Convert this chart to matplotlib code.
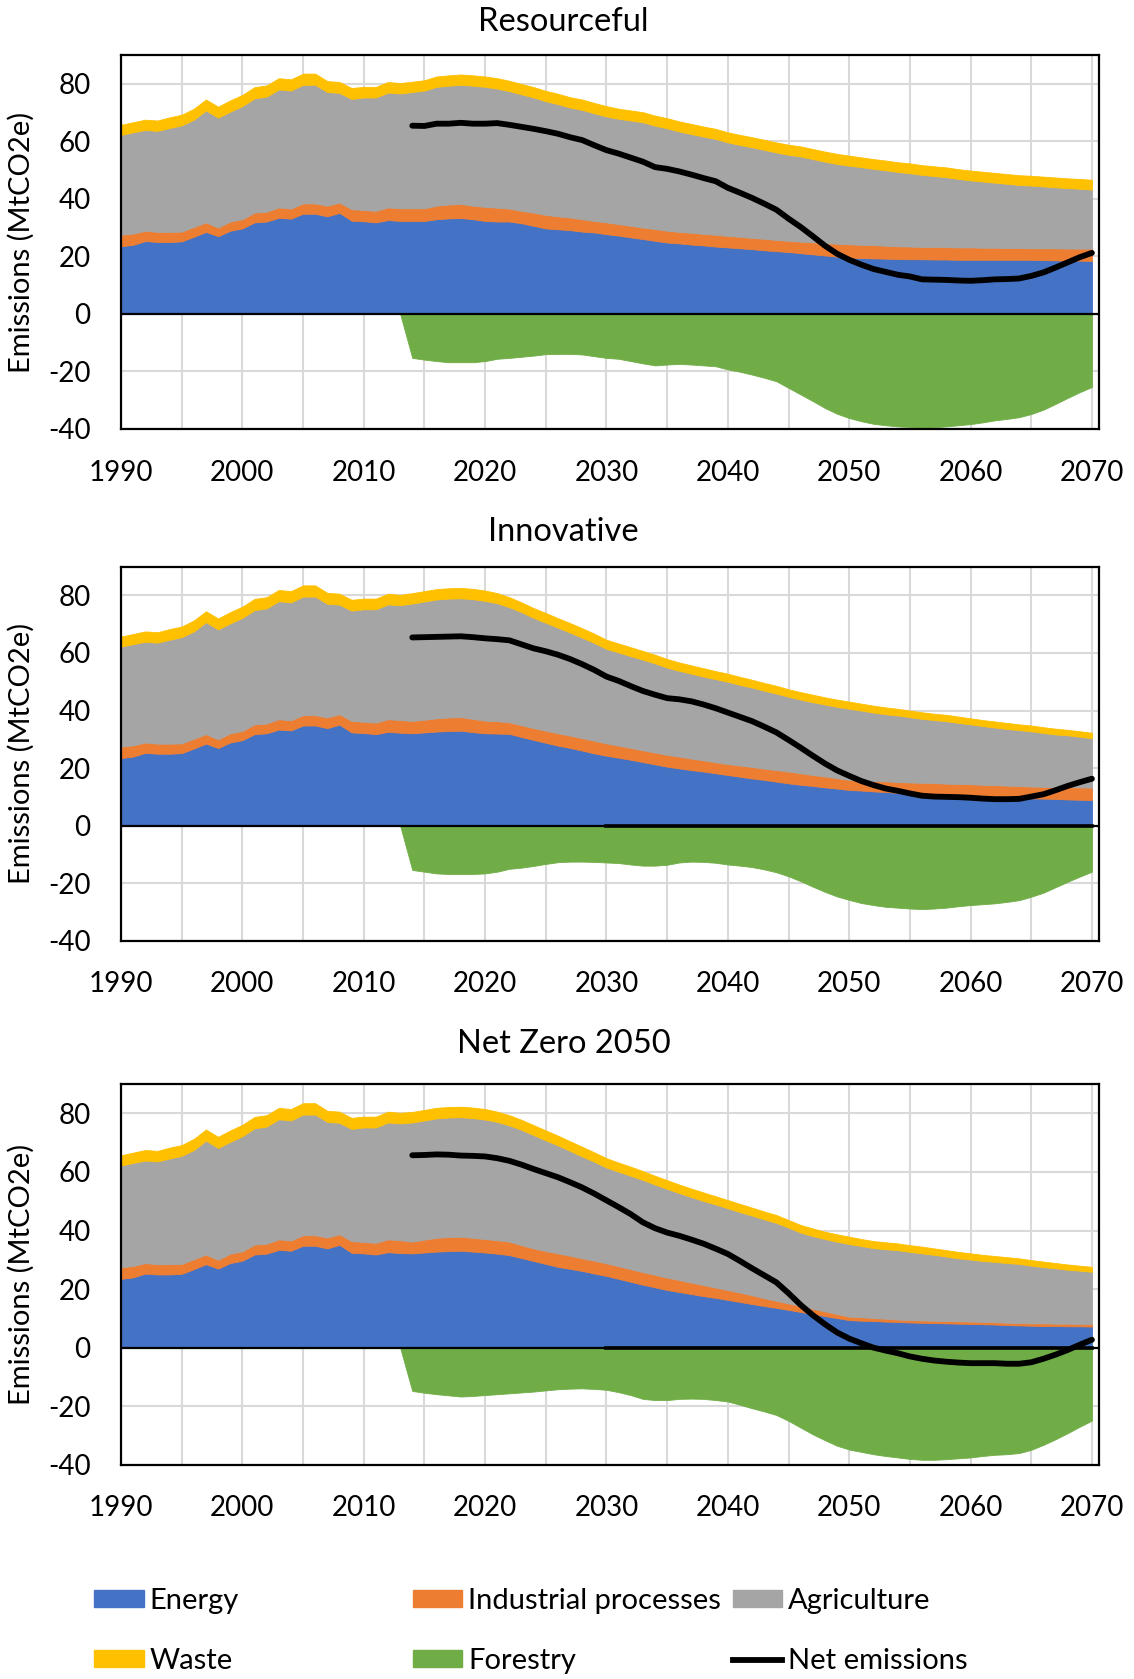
import numpy as np
import matplotlib.pyplot as plt
from matplotlib.patches import Patch
from matplotlib.lines import Line2D

plt.rcParams['font.family'] = ['Lato', 'DejaVu Sans']
plt.rcParams['axes.unicode_minus'] = False

years = np.arange(1990, 2071)
net_start = 2014

# --- inventory 1990-2013 (same in every scenario) ---
energy_hist = [23.5, 24.0, 25.3, 25.0, 25.0, 25.2, 26.8, 28.5, 27.0, 28.9,
               29.7, 31.8, 32.1, 33.4, 33.1, 34.8, 34.8, 33.9, 35.1, 32.4,
               32.2, 31.8, 32.6, 32.3]
industry_hist = [4.0, 3.9, 3.6, 3.5, 3.5, 3.4, 3.4, 3.3, 3.0, 3.2,
                 3.2, 3.4, 3.4, 3.6, 3.5, 3.6, 3.6, 3.7, 3.6, 4.0,
                 3.9, 4.0, 4.4, 4.4]
agriculture_hist = [34.7, 35.2, 35.0, 35.1, 36.1, 36.9, 37.3, 38.9, 38.2, 38.2,
                    39.3, 39.7, 40.0, 41.0, 41.0, 41.2, 41.2, 39.5, 38.1, 38.3,
                    39.1, 39.4, 39.9, 39.9]
waste_hist = [3.5, 3.5, 3.6, 3.6, 3.7, 3.7, 3.8, 3.8, 3.8, 3.9,
              3.9, 3.9, 3.9, 3.9, 3.9, 3.9, 3.9, 3.8, 3.8, 3.8,
              3.7, 3.7, 3.7, 3.6]
forestry_hist = [np.nan] * 23 + [0.0]

# --- projections 2014-2070 ---
# Resourceful
energy_1 = [32.3, 32.3, 32.9, 33.2, 33.3, 32.9, 32.3, 32.1, 32.1, 31.5,
            30.6, 29.7, 29.4, 29.1, 28.6, 28.3, 27.7, 27.2, 26.6, 26.0,
            25.4, 24.8, 24.5, 24.1, 23.8, 23.4, 23.1, 22.8, 22.5, 22.1,
            21.8, 21.5, 21.1, 20.7, 20.3, 19.9, 19.6, 19.4, 19.3, 19.2,
            19.1, 19.0, 19.0, 18.9, 18.9, 18.8, 18.8, 18.8, 18.8, 18.8,
            18.8, 18.8, 18.7, 18.6, 18.5, 18.5, 18.4]
industry_1 = [4.4, 4.4, 4.7, 4.8, 4.9, 4.7, 4.9, 4.8, 4.5, 4.3,
              4.6, 4.7, 4.5, 4.4, 4.3, 4.0, 4.1, 4.0, 4.0, 4.0,
              4.1, 4.1, 4.0, 4.1, 4.0, 4.1, 4.0, 4.0, 3.9, 4.0,
              3.9, 3.9, 4.0, 4.2, 4.3, 4.5, 4.6, 4.6, 4.6, 4.5,
              4.4, 4.4, 4.3, 4.4, 4.3, 4.3, 4.3, 4.2, 4.2, 4.1,
              4.1, 4.0, 4.1, 4.2, 4.2, 4.2, 4.3]
agriculture_1 = [40.4, 40.9, 41.3, 41.3, 41.4, 41.7, 41.7, 41.4, 40.8, 40.5,
                 40.0, 39.5, 39.0, 38.2, 38.0, 37.4, 36.8, 36.6, 36.6, 36.6,
                 35.9, 35.6, 34.9, 34.3, 33.8, 33.3, 32.5, 31.9, 31.5, 30.9,
                 30.4, 29.9, 29.6, 28.9, 28.3, 27.7, 27.3, 27.0, 26.5, 26.2,
                 25.8, 25.5, 25.0, 24.6, 24.3, 23.8, 23.3, 23.0, 22.6, 22.3,
                 21.9, 21.8, 21.5, 21.2, 21.0, 20.8, 20.5]
waste_1 = [3.6, 3.6, 3.6, 3.6, 3.6, 3.6, 3.6, 3.6, 3.6, 3.6,
           3.6, 3.6, 3.6, 3.6, 3.6, 3.6, 3.6, 3.5, 3.5, 3.5,
           3.5, 3.5, 3.5, 3.5, 3.5, 3.5, 3.5, 3.5, 3.5, 3.5,
           3.5, 3.5, 3.5, 3.5, 3.5, 3.5, 3.5, 3.4, 3.4, 3.4,
           3.4, 3.4, 3.4, 3.4, 3.4, 3.4, 3.4, 3.4, 3.4, 3.4,
           3.4, 3.4, 3.4, 3.4, 3.4, 3.4, 3.4]
forestry_1 = [-15.3, -15.9, -16.4, -16.8, -16.8, -16.8, -16.4, -15.6, -15.3, -14.9,
              -14.5, -14.0, -13.9, -13.9, -14.1, -14.7, -15.3, -15.6, -16.4, -17.2,
              -17.9, -17.6, -17.4, -17.6, -17.9, -18.2, -19.3, -20.1, -21.1, -22.2,
              -23.4, -25.7, -28.0, -30.3, -32.7, -34.7, -36.2, -37.3, -38.2, -38.7,
              -39.1, -39.3, -39.7, -39.4, -39.1, -38.7, -38.3, -37.7, -37.0, -36.5,
              -35.9, -34.8, -33.3, -31.3, -29.2, -27.2, -25.4]

# Innovative
energy_2 = [32.1, 32.4, 32.7, 32.9, 33.0, 32.5, 32.1, 32.0, 31.9, 30.8,
            29.8, 28.8, 27.8, 27.0, 26.1, 25.1, 24.3, 23.6, 22.9, 22.1,
            21.3, 20.5, 19.9, 19.3, 18.8, 18.2, 17.6, 17.0, 16.4, 15.9,
            15.3, 14.7, 14.2, 13.8, 13.3, 12.9, 12.4, 12.2, 11.9, 11.7,
            11.4, 11.2, 11.0, 10.8, 10.7, 10.5, 10.3, 10.1, 10.0, 9.8,
            9.7, 9.5, 9.4, 9.3, 9.1, 9.0, 8.9]
industry_2 = [4.3, 4.4, 4.6, 4.7, 4.7, 4.6, 4.4, 4.3, 4.0, 4.1,
              4.1, 4.2, 4.3, 4.3, 4.3, 4.4, 4.3, 4.2, 4.1, 4.1,
              4.1, 4.1, 4.1, 4.0, 3.9, 3.8, 3.8, 3.9, 4.0, 3.9,
              4.0, 4.1, 4.0, 3.8, 3.8, 3.6, 3.5, 3.5, 3.6, 3.7,
              3.8, 3.8, 3.9, 4.0, 3.9, 4.0, 4.1, 4.1, 4.1, 4.1,
              4.1, 4.1, 4.1, 4.1, 4.3, 4.3, 4.3]
agriculture_2 = [40.8, 41.1, 41.3, 41.3, 41.3, 41.6, 41.6, 41.0, 40.0, 39.3,
                 38.3, 37.5, 36.7, 35.8, 34.9, 34.0, 32.8, 32.4, 31.9, 31.5,
                 31.0, 30.3, 29.8, 29.5, 29.1, 28.9, 28.6, 28.0, 27.6, 27.1,
                 26.6, 26.0, 25.6, 25.3, 25.0, 24.8, 24.7, 24.3, 23.8, 23.3,
                 23.1, 22.7, 22.2, 21.9, 21.7, 21.2, 20.8, 20.4, 20.0, 19.7,
                 19.4, 19.2, 18.7, 18.3, 18.0, 17.6, 17.2]
waste_2 = [3.6, 3.6, 3.6, 3.6, 3.6, 3.6, 3.6, 3.5, 3.5, 3.4,
           3.4, 3.4, 3.3, 3.3, 3.3, 3.2, 3.2, 3.1, 3.1, 3.0,
           3.0, 3.0, 2.9, 2.9, 2.9, 2.8, 2.8, 2.8, 2.7, 2.7,
           2.7, 2.6, 2.6, 2.6, 2.5, 2.5, 2.5, 2.4, 2.4, 2.4,
           2.3, 2.3, 2.3, 2.2, 2.2, 2.2, 2.1, 2.1, 2.1, 2.1,
           2.0, 2.0, 2.0, 2.0, 1.9, 1.9, 1.9]
forestry_2 = [-15.4, -16.0, -16.6, -16.8, -16.8, -16.8, -16.6, -16.0, -15.0, -14.6,
              -14.0, -13.3, -12.7, -12.5, -12.5, -12.6, -12.8, -13.0, -13.5, -13.9,
              -13.9, -13.6, -12.8, -12.5, -12.6, -12.9, -13.5, -13.9, -14.4, -15.2,
              -16.2, -17.6, -19.3, -21.2, -23.0, -24.6, -25.8, -26.9, -27.6, -28.2,
              -28.5, -28.8, -29.0, -28.8, -28.5, -28.0, -27.6, -27.3, -27.0, -26.5,
              -25.9, -24.7, -23.3, -21.4, -19.5, -17.7, -16.0]

# Net Zero 2050
energy_3 = [32.2, 32.5, 32.8, 33.0, 33.1, 32.8, 32.5, 32.1, 31.6, 30.6,
            29.6, 28.6, 27.6, 26.9, 26.2, 25.3, 24.5, 23.5, 22.5, 21.5,
            20.6, 19.7, 19.0, 18.3, 17.6, 17.0, 16.3, 15.6, 14.9, 14.2,
            13.6, 12.9, 12.2, 11.5, 10.8, 10.1, 9.4, 9.2, 9.1, 8.9,
            8.8, 8.6, 8.5, 8.4, 8.3, 8.2, 8.1, 8.0, 7.9, 7.7,
            7.6, 7.5, 7.4, 7.4, 7.3, 7.3, 7.2]
industry_3 = [4.0, 4.4, 4.7, 4.8, 4.8, 4.7, 4.6, 4.6, 4.6, 4.4,
              4.3, 4.4, 4.6, 4.5, 4.3, 4.4, 4.3, 4.3, 4.3, 4.3,
              4.3, 4.2, 4.1, 3.9, 3.8, 3.5, 3.4, 3.2, 3.0, 2.7,
              2.4, 2.2, 2.0, 1.8, 1.6, 1.4, 1.2, 1.2, 1.0, 1.0,
              0.8, 0.8, 0.8, 0.8, 0.8, 0.8, 0.8, 0.8, 0.8, 0.8,
              0.8, 0.8, 0.9, 0.8, 0.9, 0.8, 0.9]
agriculture_3 = [40.7, 40.7, 40.8, 40.8, 40.8, 40.9, 40.8, 40.4, 39.7, 39.4,
                 38.7, 37.8, 36.9, 35.8, 34.8, 33.8, 32.7, 32.3, 31.9, 31.5,
                 30.8, 30.3, 29.7, 29.2, 28.7, 28.4, 27.9, 27.5, 27.2, 26.9,
                 26.6, 25.9, 25.1, 24.8, 24.7, 24.7, 24.8, 24.3, 23.9, 23.7,
                 23.7, 23.3, 22.9, 22.5, 22.0, 21.5, 21.2, 20.8, 20.6, 20.4,
                 20.2, 19.7, 19.2, 18.9, 18.4, 18.2, 17.8]
waste_3 = [3.6, 3.6, 3.6, 3.6, 3.6, 3.6, 3.6, 3.5, 3.5, 3.4,
           3.4, 3.4, 3.3, 3.3, 3.3, 3.2, 3.2, 3.1, 3.1, 3.0,
           3.0, 3.0, 2.9, 2.9, 2.9, 2.8, 2.8, 2.8, 2.7, 2.7,
           2.7, 2.6, 2.6, 2.6, 2.5, 2.5, 2.5, 2.4, 2.4, 2.4,
           2.3, 2.3, 2.3, 2.2, 2.2, 2.2, 2.1, 2.1, 2.0, 2.0,
           1.9, 1.9, 1.9, 1.8, 1.8, 1.7, 1.7]
forestry_3 = [-14.8, -15.4, -15.9, -16.3, -16.7, -16.5, -16.2, -15.9, -15.6, -15.3,
              -15.0, -14.6, -14.2, -14.0, -13.9, -14.1, -14.4, -15.2, -16.2, -17.5,
              -17.9, -17.9, -17.5, -17.4, -17.5, -17.9, -18.4, -19.5, -20.7, -21.8,
              -23.0, -25.0, -27.3, -29.6, -31.6, -33.5, -34.8, -35.6, -36.4, -37.0,
              -37.5, -38.0, -38.3, -38.3, -38.1, -37.8, -37.5, -37.0, -36.6, -36.4,
              -36.0, -34.9, -33.2, -31.3, -29.2, -27.0, -24.9]

titles = ['Resourceful', 'Innovative', 'Net Zero 2050']
# year from which a zero-valued series sits on the axis line
zero_series_from = [None, 2030, 2030]

labels = ['Energy', 'Industrial processes', 'Agriculture', 'Waste', 'Forestry', 'Net emissions']
colors = ['#4472C4', '#ED7D31', '#A5A5A5', '#FFC000', '#70AD47', 'black']

scenarios = [
    (energy_1, industry_1, agriculture_1, waste_1, forestry_1),
    (energy_2, industry_2, agriculture_2, waste_2, forestry_2),
    (energy_3, industry_3, agriculture_3, waste_3, forestry_3),
]

fig = plt.figure(figsize=(11.34, 16.79), dpi=100)

boxes = [[0.1067, 0.7445, 0.8624, 0.2228],
         [0.1067, 0.4397, 0.8624, 0.2228],
         [0.1067, 0.1276, 0.8624, 0.2267]]
title_y = [0.9866, 0.6831, 0.3782]

for i, (series, box) in enumerate(zip(scenarios, boxes)):
    energy, industry, agriculture, waste, forestry = [
        np.array(h + s, dtype=float) for h, s in zip(
            [energy_hist, industry_hist, agriculture_hist, waste_hist, forestry_hist], series)]

    ax = fig.add_axes(box)
    ax.stackplot(years, energy, industry, agriculture, waste,
                 colors=colors[:4], edgecolor='face', linewidth=0.6, zorder=2)
    ax.fill_between(years, forestry, 0, color=colors[4], edgecolor='face',
                    linewidth=0.6, zorder=2)

    ax.axhline(0, color='black', lw=1.6, zorder=3)
    if zero_series_from[i] is not None:
        sel = years >= zero_series_from[i]
        ax.plot(years[sel], np.zeros(sel.sum()), color='black', lw=2.6, zorder=3)

    net = energy + industry + agriculture + waste + forestry
    sel = years >= net_start
    ax.plot(years[sel], net[sel], color='black', lw=4.2, solid_capstyle='round',
            solid_joinstyle='round', zorder=4)

    ax.set_xlim(1990, 2070.58)
    ax.set_ylim(-40, 90)
    ax.set_xticks(range(1990, 2071, 10))
    ax.set_xticks(range(1995, 2071, 10), minor=True)
    ax.set_yticks(range(-40, 81, 20))
    ax.grid(True, which='both', axis='x', color='#d9d9d9', lw=1.5, zorder=0)
    ax.grid(True, which='major', axis='y', color='#d9d9d9', lw=1.5, zorder=0)
    ax.set_axisbelow(True)
    ax.tick_params(which='both', length=0, labelsize=20, colors='black')
    ax.tick_params(axis='y', pad=22)
    ax.tick_params(axis='x', pad=22)
    for sp in ax.spines.values():
        sp.set_linewidth(1.6)
        sp.set_color('black')
        sp.set_zorder(5)

    fig.text(0.497, title_y[i], titles[i], ha='center', va='center', fontsize=23.5)
    fig.text(0.0185, box[1] + box[3] / 2, 'Emissions (MtCO2e)', rotation=90,
             ha='center', va='center', fontsize=21)

# legend laid out in three columns, two rows
handles = [Patch(color=c) for c in colors[:5]] + [Line2D([], [], color='black', lw=4.2)]
col_x = [0.083, 0.364, 0.646]
row_y = [0.0465, 0.0107]
for k, (h, lab) in enumerate(zip(handles, labels)):
    fig.legend([h], [lab], loc='center left', bbox_to_anchor=(col_x[k % 3], row_y[k // 3]),
               frameon=False, fontsize=21, handlelength=1.7, handleheight=0.52,
               handletextpad=0.2, borderpad=0, borderaxespad=0)

fig.savefig('out.png', dpi=100)
